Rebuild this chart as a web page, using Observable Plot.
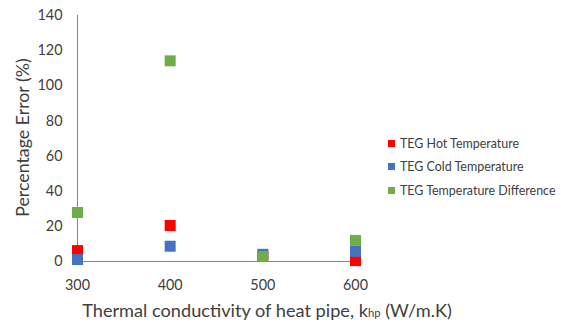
<!DOCTYPE html>
<html><head><meta charset="utf-8">
<script src="https://cdn.jsdelivr.net/npm/d3@7"></script>
<script src="https://cdn.jsdelivr.net/npm/@observablehq/plot@0.6"></script>
<style>
body{margin:0;background:#fff;font-family:Lato,"Open Sans",sans-serif;}
#wrap{position:relative;width:561px;height:324px;}
#legend{position:absolute;left:388px;top:132px;color:#404040;}
#legend div{height:23.3px;display:flex;align-items:center;white-space:nowrap;}
#legend span.sw{display:inline-block;width:7px;height:7px;margin-right:5px;flex:none;}
</style></head>
<body><div id="wrap"><div id="chart"></div><div id="legend"></div></div>
<script>
const conductivity = [300, 400, 500, 600];
const hotError = [6.2, 20.5, 3, 0.5];
const coldError = [1.1, 8.7, 4.1, 5.8];
const diffError = [27.9, 114.2, 2.8, 12];
const seriesNames = ["TEG Hot Temperature", "TEG Cold Temperature", "TEG Temperature Difference"];
const seriesColors = ["#FF0000", "#4472C4", "#70AD47"];
const xTicks = [300, 400, 500, 600];
const yTicks = [0, 20, 40, 60, 80, 100, 120, 140];
const yTitle = "Percentage Error (%)";
const xTitleMain = "Thermal conductivity of heat pipe, k";
const xTitleSub = "hp";
const xTitleEnd = " (W/m.K)";

const FONT = "Lato";
const ctx = document.createElement("canvas").getContext("2d");
function textW(s, px) { ctx.font = `${px}px ${FONT}`; return ctx.measureText(s).width; }
function fitSize(s, target) { return 20 * target / textW(s, 20); }

const tickFs = fitSize("300", 25);
const titleFs = fitSize(xTitleMain + " (W/m.K)", 369 - 11);
const yTitleFs = fitSize(yTitle, 159);
const legendFs = fitSize(seriesNames[2], 156);

const seriesVals = [hotError, coldError, diffError];
const data = [];
seriesVals.forEach((vals, s) => vals.forEach((v, i) => data.push({k: conductivity[i], e: v, s: seriesNames[s]})));

const chart = Plot.plot({
  width: 561, height: 324,
  marginLeft: 77, marginRight: 206, marginTop: 15, marginBottom: 63,
  style: {fontFamily: "Lato, 'Open Sans', sans-serif", color: "#404040", background: "#fff"},
  x: {domain: [300, 600], ticks: xTicks, label: null},
  y: {domain: [0, 140], ticks: yTicks, label: null},
  color: {domain: seriesNames, range: seriesColors},
  marks: [
    Plot.ruleX([300], {stroke: "#868686", strokeWidth: 1}),
    Plot.ruleY([0], {stroke: "#868686", strokeWidth: 1}),
    Plot.axisY({ticks: yTicks, tickSize: 0, tickPadding: 15, fill: "#404040", fontSize: tickFs}),
    Plot.axisX({ticks: xTicks, tickSize: 0, tickPadding: 18, fill: "#404040", fontSize: tickFs}),
    Plot.dot(data, {x: "k", y: "e", fill: "s", symbol: "square", r: 6.2, stroke: null})
  ]
});
document.getElementById("chart").appendChild(chart);

const svg = d3.select(chart);
const xt = svg.append("text")
  .attr("x", 267).attr("y", 317).attr("text-anchor", "middle")
  .attr("fill", "#404040").style("font-family", FONT).style("font-size", titleFs + "px");
xt.append("tspan").text(xTitleMain);
xt.append("tspan").attr("font-size", titleFs * 0.62 + "px").text(xTitleSub);
xt.append("tspan").text(xTitleEnd);

svg.append("text")
  .attr("transform", "translate(29,137.5) rotate(-90)")
  .attr("text-anchor", "middle").attr("fill", "#404040")
  .style("font-family", FONT).style("font-size", yTitleFs + "px")
  .text(yTitle);

const lg = document.getElementById("legend");
lg.style.fontSize = legendFs + "px";
seriesNames.forEach((n, i) => {
  const d = document.createElement("div");
  d.innerHTML = `<span class="sw" style="background:${seriesColors[i]}"></span>${n}`;
  lg.appendChild(d);
});
</script></body></html>
